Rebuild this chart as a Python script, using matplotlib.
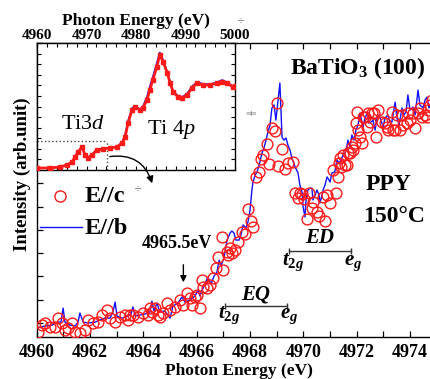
import numpy as np
import matplotlib
matplotlib.use('Agg')
import matplotlib.pyplot as plt
from matplotlib.lines import Line2D
from matplotlib.patches import FancyArrowPatch

plt.rcParams.update({
    'font.family': 'Liberation Serif',
    'font.weight': 'bold',
    'axes.labelweight': 'bold',
    'mathtext.fontset': 'custom',
    'mathtext.rm': 'Liberation Serif:weight=bold',
    'mathtext.it': 'Liberation Serif:style=italic:weight=normal',
    'mathtext.bf': 'Liberation Serif:weight=bold',
    'mathtext.bfit': 'Liberation Serif:style=italic:weight=bold',
})

# ---------------- data: main panel ----------------
# E//c (circles)
ec_E = [4960.05, 4960.20, 4960.31, 4960.50, 4960.69, 4960.80, 4960.95, 4961.06, 4961.17, 4961.32,
        4961.44, 4961.62, 4961.81, 4961.92, 4962.11, 4962.30, 4962.45, 4962.64, 4962.75, 4962.94,
        4963.12, 4963.31, 4963.42, 4963.50, 4963.61, 4963.80, 4963.99, 4964.17, 4964.25, 4964.32,
        4964.44, 4964.55, 4964.62, 4964.74, 4964.89, 4965.00, 4965.19, 4965.37, 4965.49, 4965.64,
        4965.75, 4965.82, 4965.94, 4966.01, 4966.12, 4966.20, 4966.24, 4966.39, 4966.50, 4966.61,
        4966.72, 4966.80, 4966.93, 4966.97, 4967.14, 4967.17, 4967.25, 4967.32, 4967.44, 4967.55,
        4967.70, 4967.81, 4967.92, 4968.04, 4968.11, 4968.22, 4968.34, 4968.41, 4968.49, 4968.64,
        4968.71, 4968.82, 4968.94, 4969.01, 4969.05, 4969.20, 4969.31, 4969.42, 4969.61, 4969.69,
        4969.80, 4969.87, 4969.95, 4970.02, 4970.14, 4970.21, 4970.32, 4970.36, 4970.51, 4970.59,
        4970.74, 4970.81, 4970.89, 4971.00, 4971.11, 4971.22, 4971.30, 4971.34, 4971.37, 4971.41,
        4971.49, 4971.56, 4971.64, 4971.67, 4971.75, 4971.82, 4971.86, 4971.94, 4971.97, 4972.01,
        4972.05, 4972.12, 4972.20, 4972.24, 4972.31, 4972.39, 4972.42, 4972.50, 4972.57, 4972.65,
        4972.72, 4972.80, 4972.95, 4973.06, 4973.14, 4973.17, 4973.32, 4973.36, 4973.44, 4973.51,
        4973.62, 4973.70, 4973.74, 4973.89, 4973.92, 4974.00, 4974.11, 4974.19, 4974.30, 4974.37,
        4974.45, 4974.56, 4974.64, 4974.67, 4974.75, 4974.82]
ec_I = [-0.039, -0.009, 0.000, -0.017, -0.017, 0.021, 0.000, -0.030, -0.021, 0.000,
        -0.039, -0.043, -0.030, 0.013, 0.000, 0.004, 0.034, 0.056, 0.021, 0.004,
        0.026, 0.034, 0.013, 0.034, 0.034, 0.026, 0.043, 0.034, 0.064, 0.047,
        0.064, 0.034, 0.026, 0.043, 0.086, 0.056, 0.069, 0.099, 0.077, 0.129,
        0.107, 0.077, 0.112, 0.120, 0.064, 0.185, 0.155, 0.150, 0.163, 0.193,
        0.236, 0.283, 0.369, 0.227, 0.305, 0.292, 0.322, 0.300, 0.313, 0.348,
        0.391, 0.382, 0.489, 0.438, 0.412, 0.627, 0.648, 0.704, 0.721, 0.768,
        0.682, 0.837, 0.824, 0.944, 0.674, 0.747, 0.661, 0.687, 0.691, 0.558,
        0.536, 0.558, 0.554, 0.532, 0.446, 0.558, 0.494, 0.519, 0.476, 0.459,
        0.541, 0.438, 0.549, 0.515, 0.657, 0.558, 0.627, 0.687, 0.708, 0.670,
        0.721, 0.678, 0.678, 0.730, 0.730, 0.755, 0.742, 0.773, 0.858, 0.906,
        0.828, 0.798, 0.773, 0.884, 0.884, 0.841, 0.901, 0.863, 0.901, 0.901,
        0.798, 0.914, 0.863, 0.858, 0.841, 0.828, 0.906, 0.828, 0.828, 0.893,
        0.828, 0.893, 0.850, 0.858, 0.901, 0.871, 0.901, 0.837, 0.901, 0.923,
        0.884, 0.893, 0.884, 0.914, 0.936, 0.957]

# E//b (line)
eb_E = [4960.01, 4960.31, 4960.57, 4960.80, 4960.91, 4960.99, 4961.06, 4961.25, 4961.44, 4961.55,
        4961.62, 4961.74, 4961.92, 4962.19, 4962.37, 4962.56, 4962.75, 4962.86, 4962.94, 4963.01,
        4963.20, 4963.42, 4963.54, 4963.61, 4963.69, 4963.87, 4964.06, 4964.25, 4964.32, 4964.40,
        4964.51, 4964.62, 4964.81, 4965.00, 4965.11, 4965.30, 4965.45, 4965.56, 4965.75, 4965.94,
        4966.05, 4966.12, 4966.27, 4966.42, 4966.54, 4966.65, 4966.76, 4966.84, 4966.91, 4967.02,
        4967.14, 4967.25, 4967.32, 4967.40, 4967.47, 4967.59, 4967.66, 4967.74, 4967.85, 4967.92,
        4968.00, 4968.07, 4968.11, 4968.19, 4968.26, 4968.34, 4968.45, 4968.52, 4968.60, 4968.67,
        4968.75, 4968.82, 4968.90, 4968.97, 4969.05, 4969.12, 4969.20, 4969.27, 4969.35, 4969.42,
        4969.50, 4969.57, 4969.69, 4969.80, 4969.87, 4969.95, 4969.99, 4970.06, 4970.10, 4970.17,
        4970.25, 4970.32, 4970.36, 4970.44, 4970.51, 4970.59, 4970.62, 4970.70, 4970.74, 4970.81,
        4970.89, 4970.96, 4971.00, 4971.07, 4971.15, 4971.18, 4971.26, 4971.33, 4971.41, 4971.49,
        4971.56, 4971.64, 4971.67, 4971.75, 4971.82, 4971.90, 4971.97, 4972.05, 4972.12, 4972.20,
        4972.24, 4972.31, 4972.39, 4972.46, 4972.54, 4972.61, 4972.69, 4972.76, 4972.84, 4972.91,
        4972.99, 4973.06, 4973.17, 4973.25, 4973.32, 4973.44, 4973.51, 4973.59, 4973.70, 4973.77,
        4973.85, 4973.92, 4974.00, 4974.11, 4974.19, 4974.30, 4974.37, 4974.49, 4974.56, 4974.64,
        4974.71, 4974.78]
eb_I = [-0.021, -0.013, -0.009, 0.004, 0.004, 0.064, 0.004, -0.009, -0.013, 0.004,
        0.043, 0.004, 0.000, 0.004, 0.013, 0.021, 0.021, 0.047, 0.090, 0.030,
        0.021, 0.030, 0.039, 0.069, 0.030, 0.034, 0.039, 0.047, 0.094, 0.052,
        0.086, 0.047, 0.052, 0.021, 0.073, 0.086, 0.112, 0.090, 0.099, 0.116,
        0.142, 0.116, 0.159, 0.197, 0.167, 0.202, 0.219, 0.270, 0.245, 0.279,
        0.356, 0.386, 0.395, 0.386, 0.356, 0.356, 0.378, 0.421, 0.408, 0.433,
        0.485, 0.571, 0.605, 0.635, 0.648, 0.678, 0.730, 0.751, 0.785, 0.820,
        0.850, 0.923, 0.936, 0.871, 0.957, 1.030, 0.798, 0.785, 0.794, 0.764,
        0.742, 0.708, 0.670, 0.644, 0.592, 0.562, 0.498, 0.455, 0.528, 0.571,
        0.579, 0.579, 0.528, 0.549, 0.571, 0.549, 0.515, 0.549, 0.571, 0.592,
        0.627, 0.614, 0.605, 0.644, 0.648, 0.648, 0.700, 0.687, 0.700, 0.721,
        0.730, 0.764, 0.785, 0.755, 0.807, 0.785, 0.828, 0.850, 0.901, 0.863,
        0.841, 0.880, 0.901, 0.858, 0.863, 0.871, 0.828, 0.880, 0.893, 0.871,
        0.841, 0.880, 0.893, 0.863, 0.863, 0.948, 0.880, 0.850, 0.923, 0.893,
        0.906, 0.979, 0.914, 0.927, 0.893, 1.000, 0.936, 0.923, 0.957, 0.970,
        0.923, 0.948]

# ---------------- data: inset (wide range) ----------------
in_E = [4960.0, 4962.6, 4964.6, 4966.1, 4967.1, 4967.7, 4968.3, 4969.1, 4969.7, 4970.3,
        4971.1, 4972.1, 4973.3, 4974.7, 4976.2, 4977.2, 4977.8, 4978.4, 4979.2, 4979.8,
        4980.8, 4981.4, 4982.2, 4982.8, 4983.4, 4984.2, 4984.8, 4985.5, 4986.3, 4986.9,
        4987.5, 4988.5, 4989.3, 4990.3, 4991.3, 4992.3, 4993.5, 4994.9, 4996.4, 4997.4,
        4998.4, 4999.6, 5000.0]
in_c = [0.019, 0.019, 0.028, 0.047, 0.076, 0.123, 0.170, 0.217, 0.142, 0.113,
        0.142, 0.189, 0.198, 0.208, 0.217, 0.255, 0.312, 0.444, 0.567, 0.595,
        0.567, 0.586, 0.662, 0.756, 0.851, 0.974, 1.087, 1.021, 0.917, 0.822,
        0.737, 0.690, 0.681, 0.709, 0.775, 0.822, 0.803, 0.803, 0.822, 0.832,
        0.822, 0.784, 0.790]
in_b = [0.019, 0.021, 0.030, 0.050, 0.080, 0.128, 0.175, 0.222, 0.145, 0.116,
        0.145, 0.192, 0.200, 0.212, 0.222, 0.262, 0.330, 0.465, 0.585, 0.600,
        0.575, 0.600, 0.690, 0.790, 0.880, 1.010, 1.110, 1.040, 0.925, 0.830,
        0.745, 0.700, 0.690, 0.720, 0.790, 0.830, 0.815, 0.810, 0.830, 0.850,
        0.830, 0.790, 0.800]
box_E = 4974.1        # main-panel range shown in the inset
box_I = 0.274

# annotations
edge_E = 4965.5
eq_range = [4967.05, 4969.40]
ed_range = [4969.45, 4971.80]

W, H = 431, 379
def fp(x, y):
    return (x / W, 1 - y / H)

fig = plt.figure(figsize=(W / 100, H / 100), dpi=100)

# ---------------- main axes ----------------
ax = fig.add_axes([36.7 / W, (H - 337) / H, 400 / W, 294 / H])
ax.set_xlim(4960, 4975)
ax.set_ylim(-0.06, 1.202)
ax.plot(eb_E, eb_I, color='#1010ff', lw=1.0, zorder=2)
ax.plot(ec_E, ec_I, 'o', mfc='none', mec='#ff1a1a', ms=7.8, mew=1.0, zorder=3)
ax.set_xticks(np.arange(4960, 4976, 2))
ax.set_xticks(np.arange(4960, 4976, 1), minor=True)
ax.set_yticks(np.arange(0, 1.21, 0.1))
ax.set_yticklabels([])
ax.tick_params(which='both', direction='in', top=True, bottom=True, left=True, right=False,
               length=4, width=0.9)
ax.tick_params(axis='x', labelsize=13, pad=5)
ax.spines['right'].set_visible(False)
for s in ax.spines.values():
    s.set_linewidth(1.0)

# edge arrow
ax.annotate('', xy=(edge_E, 0.163), xytext=(edge_E, 0.262),
            arrowprops=dict(arrowstyle='-|>', color='k', lw=1.0, mutation_scale=9))
ax.text(4965.26, 0.322, '4965.5eV', ha='center', va='baseline', fontsize=13)

# ED / EQ bars
for rng, yb, lab, ylab_y, ysub in [(eq_range, 0.073, 'EQ', 0.099, 0.021),
                                    (ed_range, 0.309, 'ED', 0.343, 0.249)]:
    ax.plot(rng, [yb, yb], color='#333333', lw=1.0, marker='|', ms=5, mew=1.0)
    ax.text((rng[0] + rng[1]) / 2, ylab_y, lab, ha='center', va='baseline',
            fontsize=15, style='italic')
    ax.text(rng[0] + 0.15, ysub, r'$\mathbfit{t}_{\mathrm{2}\mathbfit{g}}$', ha='center',
            va='baseline', fontsize=15)
    ax.text(rng[1] + 0.05, ysub, r'$\mathbfit{e}_{\mathbfit{g}}$', ha='center',
            va='baseline', fontsize=15)

# ---------------- inset ----------------
axi = fig.add_axes([37 / W, (H - 170) / H, 198 / W, 127 / H], zorder=5)
axi.set_facecolor('white')
axi.set_xlim(4960, 5000)
axi.set_ylim(0, 1.2)
axi.plot(in_E, in_b, color='#1010ff', lw=1.2, zorder=2)
axi.plot(in_E, in_c, color='#ff1a1a', lw=2.0, marker='s', ms=2.2, zorder=3)
axi.plot([4960, box_E], [box_I, box_I], ls=':', color='#444444', lw=1.0)
axi.plot([box_E, box_E], [0, box_I], ls=':', color='#444444', lw=1.0)
axi.xaxis.tick_top()
axi.xaxis.set_label_position('top')
axi.set_xticks(np.arange(4960, 5001, 10))
axi.set_xticks(np.arange(4960, 5001, 2), minor=True)
axi.set_yticks(np.arange(0, 1.21, 0.1))
axi.set_yticklabels([])
axi.tick_params(which='both', direction='in', top=True, bottom=True, left=True, right=True,
                length=3, width=0.8)
axi.tick_params(axis='x', labelsize=11, pad=0.5)
axi.set_xlabel('Photon Energy (eV)', fontsize=12.5, fontweight='bold', labelpad=3)
for s in axi.spines.values():
    s.set_linewidth(1.0)
axi.text(0.12, 0.32, r'Ti3$d$', transform=axi.transAxes, fontsize=16, fontweight='normal',
         ha='left', va='baseline')
axi.text(0.555, 0.28, r'Ti 4$p$', transform=axi.transAxes, fontsize=16, fontweight='normal',
         ha='left', va='baseline')

# curved arrow from inset to main
arr = FancyArrowPatch(posA=fp(107, 157), posB=fp(153, 186), transform=fig.transFigure,
                      connectionstyle='arc3,rad=-0.45', arrowstyle='-|>', mutation_scale=10,
                      lw=1.0, color='k', zorder=20)
fig.add_artist(arr)

# legend (manual)
fig.add_artist(Line2D([fp(60, 196)[0]], [fp(60, 196)[1]], marker='o', mfc='none', mec='#ff1a1a',
                      ms=8, mew=1.0, transform=fig.transFigure))
fig.add_artist(Line2D([fp(40, 227)[0], fp(82, 227)[0]], [fp(40, 227)[1]] * 2, color='#1010ff',
                      lw=1.0, transform=fig.transFigure))
fig.text(*fp(85, 202), 'E//c', fontsize=17.5, ha='left', va='baseline')
fig.text(*fp(85, 234), 'E//b', fontsize=17.5, ha='left', va='baseline')

# labels
fig.text(*fp(290, 74), r'BaTiO$_\mathbf{3}$ (100)', fontsize=17, ha='left', va='baseline')
fig.text(*fp(366, 190), 'PPY', fontsize=17, ha='left', va='baseline')
fig.text(*fp(363, 222), '150°C', fontsize=17, ha='left', va='baseline')
fig.text(*fp(22, 174), 'Intensity (arb.unit)', rotation=90, ha='center', va='center',
         fontsize=13.5)
fig.text(*fp(239, 371), 'Photon Energy (eV)', ha='center', va='center', fontsize=12.5)

# stray marks present in the original
fig.text(*fp(241, 20), '÷', fontsize=7, color='#777777', ha='center', va='center',
         family='DejaVu Sans', fontweight='normal')
fig.text(*fp(138, 188), '÷', fontsize=7, color='#777777', ha='center', va='center',
         family='DejaVu Sans', fontweight='normal')
fig.text(*fp(252, 113), '╫', fontsize=6, color='#777777', ha='center', va='center',
         family='DejaVu Sans', fontweight='normal', rotation=90)

fig.savefig('out.png', dpi=100)
